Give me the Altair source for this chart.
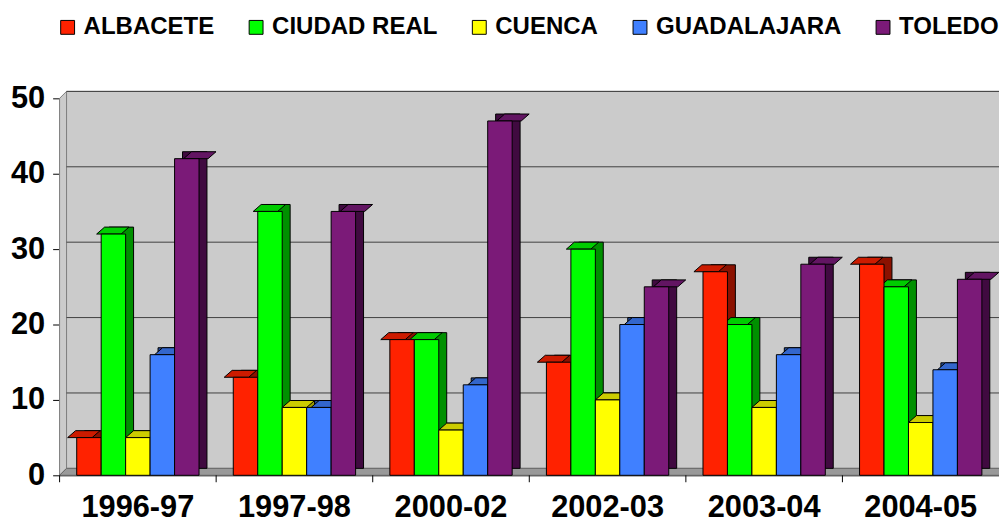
import altair as alt
import pandas as pd

years = ["1996-97", "1997-98", "2000-02", "2002-03", "2003-04", "2004-05"]
series = ["ALBACETE", "CIUDAD REAL", "CUENCA", "GUADALAJARA", "TOLEDO"]
albacete = [5, 13, 18, 15, 27, 28]
ciudad_real = [32, 35, 18, 30, 20, 25]
cuenca = [5, 9, 6, 10, 9, 7]
guadalajara = [16, 9, 12, 20, 16, 14]
toledo = [42, 35, 47, 25, 28, 26]
y_ticks = [0, 10, 20, 30, 40, 50]

front_colors = ["#FF2200", "#00FF00", "#FFFF00", "#4080FF", "#7B1A78"]
top_colors = ["#CC1B00", "#00CC00", "#CCCC00", "#3366CC", "#621562"]
side_colors = ["#8B1100", "#009000", "#999900", "#264D99", "#400A40"]

values = [albacete, ciudad_real, cuenca, guadalajara, toledo]
rows = []
for s, vals in zip(series, values):
    for y, v in zip(years, vals):
        rows.append({"year": y, "series": s, "value": v})
df = pd.DataFrame(rows)

W, H = 947, 380
DX, DY = 8, 7      # bar depth
WX, WY = 7, 7      # wall depth
FONT = "Liberation Sans"

band = W / len(years)
x_scale = alt.Scale(domain=years, paddingInner=0, paddingOuter=0)
xo_front = alt.Scale(domain=series, paddingInner=0, paddingOuter=0.7, range=[0, band])
xo_side = alt.Scale(domain=series, paddingInner=0, paddingOuter=0.7, range=[DX, band + DX])
y_scale = alt.Scale(domain=[0, 50], nice=False, zero=True)

bar_w = band / (len(series) + 1.4)
hw = bar_w / 2

x_axis = alt.Axis(ticks=False, labelAngle=0, labelFontSize=31, labelFont=FONT,
                  labelFontWeight="bold", labelColor="#000000", labelPadding=18,
                  domainColor="#000000", domainWidth=1, title=None, grid=False)
y_axis = alt.Axis(values=y_ticks, tickSize=7, tickColor="#000000", labelPadding=8,
                  labelFontSize=31, labelFont=FONT, labelFontWeight="bold",
                  labelColor="#000000", domainColor="#000000", grid=False, title=None)

wall_df = pd.DataFrame({"top": [50], "bottom": [0]})
grid_df = pd.DataFrame({"v": [10, 20, 30, 40, 50]})

# back wall
back_wall = alt.Chart(wall_df).mark_rect(
    fill="#CBCBCB", stroke="#808080", strokeWidth=1, yOffset=-WY, y2Offset=-WY
).encode(
    x=alt.value(WX), x2=alt.value(W + WX),
    y=alt.Y("top:Q", scale=y_scale, axis=y_axis), y2="bottom:Q",
)

left_path = f"M 0 0 L {WX} {-WY} L {WX} {-WY - H} L 0 {-H} Z"
left_wall = alt.Chart(wall_df).mark_point(
    shape=left_path, size=4, filled=True, fill="#CBCBCB", stroke="#808080",
    strokeWidth=1, opacity=1
).encode(x=alt.value(0), y=alt.Y("bottom:Q", scale=y_scale, axis=y_axis))

floor_path = f"M 0 0 L {W} 0 L {W + WX} {-WY} L {WX} {-WY} Z"
floor = alt.Chart(wall_df).mark_point(
    shape=floor_path, size=4, filled=True, fill="#999999", stroke="#666666",
    strokeWidth=1, opacity=1
).encode(x=alt.value(0), y=alt.Y("bottom:Q", scale=y_scale, axis=y_axis))

grid = alt.Chart(grid_df).mark_rule(
    color="#404040", strokeWidth=1, yOffset=-WY
).encode(
    x=alt.value(WX), x2=alt.value(W + WX),
    y=alt.Y("v:Q", scale=y_scale, axis=y_axis),
)

# side faces (copy shifted back in depth)
sides = alt.Chart(df).mark_bar(
    stroke="#000000", strokeWidth=1, yOffset=-DY
).encode(
    x=alt.X("year:N", scale=x_scale, axis=x_axis),
    xOffset=alt.XOffset("series:N", scale=xo_side),
    y=alt.Y("value:Q", scale=y_scale, axis=y_axis),
    fill=alt.Fill("series:N", scale=alt.Scale(domain=series, range=side_colors), legend=None),
)

top_path = f"M {-hw:.2f} 0 L {hw:.2f} 0 L {hw + DX:.2f} {-DY} L {-hw + DX:.2f} {-DY} Z"
tops = alt.Chart(df).mark_point(
    shape=top_path, size=4, filled=True, stroke="#000000", strokeWidth=1, opacity=1
).encode(
    x=alt.X("year:N", scale=x_scale, axis=x_axis),
    xOffset=alt.XOffset("series:N", scale=xo_front),
    y=alt.Y("value:Q", scale=y_scale, axis=y_axis),
    fill=alt.Fill("series:N", scale=alt.Scale(domain=series, range=top_colors), legend=None),
)

fronts = alt.Chart(df).mark_bar(stroke="#000000", strokeWidth=1).encode(
    x=alt.X("year:N", scale=x_scale, axis=x_axis),
    xOffset=alt.XOffset("series:N", scale=xo_front),
    y=alt.Y("value:Q", scale=y_scale, axis=y_axis),
    color=alt.Color("series:N", scale=alt.Scale(domain=series, range=front_colors),
                    legend=alt.Legend(title=None, orient="none", direction="horizontal",
                                      legendX=-4, legendY=-84, symbolType="square",
                                      symbolSize=196, symbolStrokeColor="#000000",
                                      symbolStrokeWidth=1, labelFont=FONT,
                                      labelFontSize=24.2, labelFontWeight="bold",
                                      labelColor="#000000", labelOffset=4, labelLimit=400,
                                      columnPadding=30, columns=5)),
)

tick_df = pd.DataFrame({"year": years})
xticks = alt.Chart(tick_df).mark_rule(color="#000000", strokeWidth=1).encode(
    x=alt.X("year:N", scale=x_scale, axis=x_axis, bandPosition=0),
    y=alt.value(H), y2=alt.value(H + 7),
)

chart = alt.layer(
    back_wall, left_wall, floor, grid, sides, tops, fronts, xticks
).resolve_scale(
    color="independent", fill="independent", xOffset="independent"
).properties(
    width=W, height=H,
    autosize=alt.AutoSizeParams(type="none"),
    padding={"left": 52, "top": 89, "right": 0, "bottom": 45},
).configure_view(stroke=None)

chart.save("out.html", embed_options={"renderer": "svg", "actions": False})
